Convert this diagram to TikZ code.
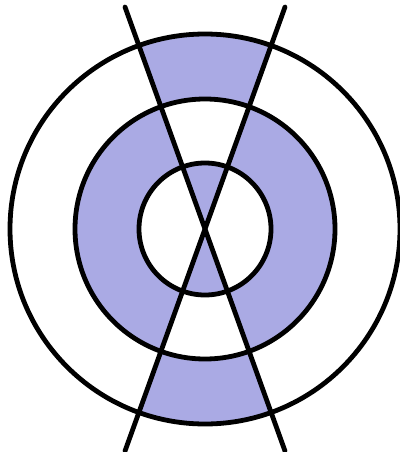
\documentclass[tikz,border=0pt]{standalone}
\usetikzlibrary{calc}
\definecolor{lav}{RGB}{170,170,228}
\tikzset{ring/.style={draw=black,line width=4.8pt},
  cut/.style={draw=black,line width=4.8pt,line cap=round}}
\begin{document}
\begin{tikzpicture}[x=1pt,y=-1pt]
\useasboundingbox (0,0) rectangle (399,452);
\coordinate (C) at (205,229);
\coordinate (TL) at (125,7);
\coordinate (TR) at (285,7);
\coordinate (BL) at (125,451);
\coordinate (BR) at (285,451);
% vertical wedges
\begin{scope}
\clip (C) -- ($(C)!3!(TL)$) -- ($(C)!3!(TR)$) -- cycle
      (C) -- ($(C)!3!(BL)$) -- ($(C)!3!(BR)$) -- cycle;
\fill[lav,even odd rule] (C) circle[radius=195] (C) circle[radius=130];
\fill[lav] (C) circle[radius=66];
\end{scope}
% side wedges
\begin{scope}
\clip (C) -- ($(C)!3!(TL)$) -- (-600,229) -- ($(C)!3!(BL)$) -- cycle
      (C) -- ($(C)!3!(TR)$) -- (1000,229) -- ($(C)!3!(BR)$) -- cycle;
\fill[lav,even odd rule] (C) circle[radius=130] (C) circle[radius=66];
\end{scope}
\path[ring] (C) circle[radius=195];
\path[ring] (C) circle[radius=130];
\path[ring] (C) circle[radius=66];
\path[cut] (TL) -- (BR);
\path[cut] (TR) -- (BL);
\end{tikzpicture}
\end{document}
